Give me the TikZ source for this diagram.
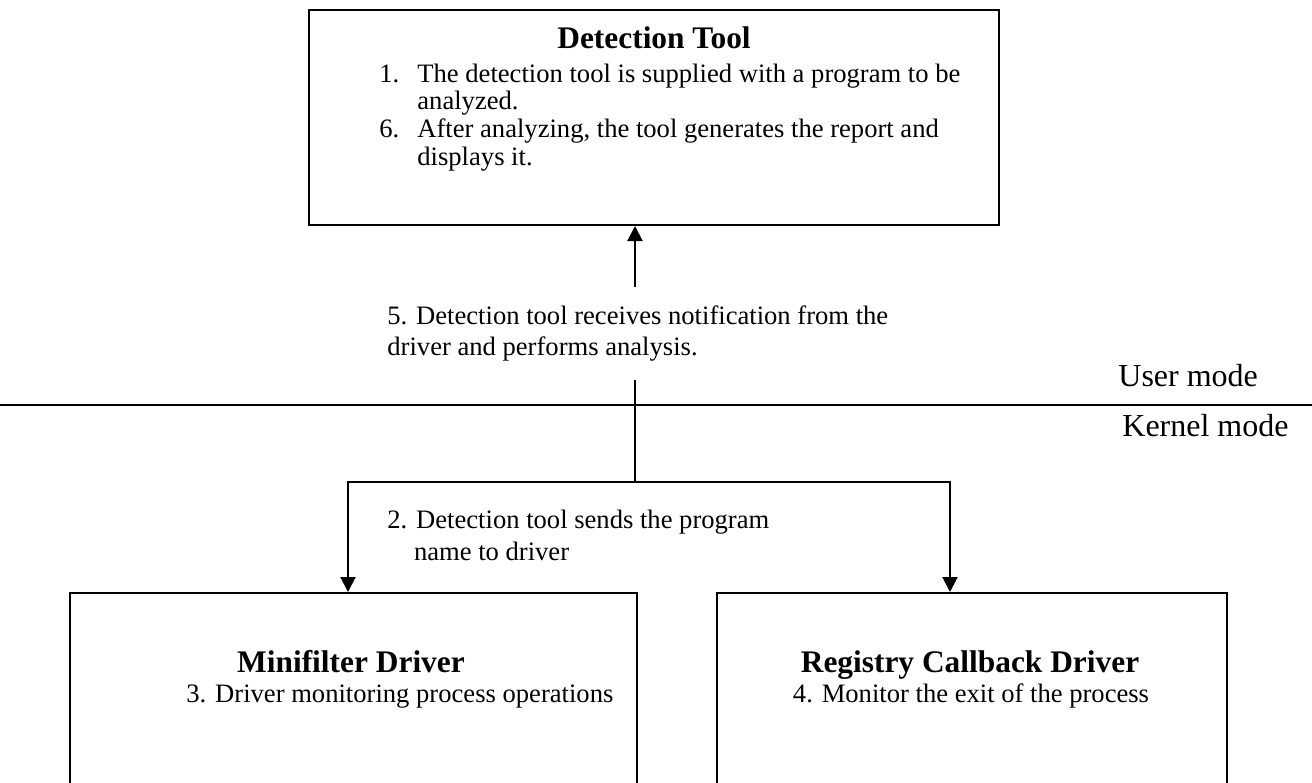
\documentclass[tikz,border=0pt]{standalone}
\usepackage{fontspec}
\setmainfont{Liberation Serif}
\usetikzlibrary{arrows.meta}

\begin{document}
\begin{tikzpicture}[x=0.5pt,y=-0.5pt]

    \tikzset{
      BoxStyle/.style = { rectangle, draw, line width = 1pt, inner sep = 0pt },
      TitleStyle/.style = { font = \fontsize{15.7}{18}\selectfont\bfseries,
                            inner sep = 0pt },
      TextStyle/.style = { font = \fontsize{13.3}{15.5}\selectfont,
                           inner sep = 0pt, align = left },
      ModeStyle/.style = { font = \fontsize{16}{19}\selectfont, inner sep = 0pt },
      EdgeStyle/.style = { line width = 1pt,
                           -{Triangle[length=7.5pt,width=7.5pt]} } }

    \useasboundingbox (0,0) rectangle (1312,782);
    \clip (0,0) rectangle (1312,782);

    % boxes
    \node[BoxStyle, minimum width = 345pt, minimum height = 107.5pt]
      (tool) at (654,117.5) {};
    \node[BoxStyle, minimum width = 283.5pt, minimum height = 113.5pt]
      (mini) at (353.5,706.5) {};
    \node[BoxStyle, minimum width = 255pt, minimum height = 113.5pt]
      (reg) at (972,706.5) {};

    % texts (base = last line)
    \node[TitleStyle, anchor = base] (toolT) at (654,48) {Detection Tool};
    \node[TextStyle, anchor = base west, font = \fontsize{13.3}{13.8}\selectfont]
      (toolL) at (379,165)
      {\makebox[19pt][l]{1.}The detection tool is supplied with a program to be\\
       \hspace*{19pt}analyzed.\\
       \makebox[19pt][l]{6.}After analyzing, the tool generates the report and\\
       \hspace*{19pt}displays it.};

    \node[TitleStyle, anchor = base] (miniT) at (351,672) {Minifilter Driver};
    \node[TextStyle, anchor = base west] (miniL) at (186,702)
      {3. Driver monitoring process operations};
    \node[TitleStyle, anchor = base] (regT) at (970,672) {Registry Callback Driver};
    \node[TextStyle, anchor = base] (regL) at (971,702)
      {4. Monitor the exit of the process};

    \node[TextStyle, anchor = base west] (step5) at (387,355)
      {5. Detection tool receives notification from the\\
       driver and performs analysis.};
    \node[TextStyle, anchor = base west, font = \fontsize{13.3}{16}\selectfont]
      (step2) at (387,560)
      {2. Detection tool sends the program\\
       \hphantom{2.\ }name to driver};

    \node[ModeStyle, anchor = base west] (user) at (1118,386) {User mode};
    \node[ModeStyle, anchor = base west] (kernel) at (1122,436) {Kernel mode};

    % user / kernel border
    \coordinate (divL) at (0,405);
    \coordinate (divR) at (1312,405);
    \draw[line width = 1pt] (divL) -- (divR);

    % connectors
    \coordinate (up5) at (635,287);
    \coordinate (dn5) at (635,380);
    \coordinate (fork) at (635,482);
    \coordinate (forkL) at (348,482);
    \coordinate (forkR) at (950,482);

    \draw[EdgeStyle] (up5) -- (up5 |- tool.south);
    \draw[line width = 1pt] (dn5) -- (fork);
    \draw[EdgeStyle] (fork) -| (forkL |- mini.north);
    \draw[EdgeStyle] (fork) -| (forkR |- reg.north);

\end{tikzpicture}
\end{document}
